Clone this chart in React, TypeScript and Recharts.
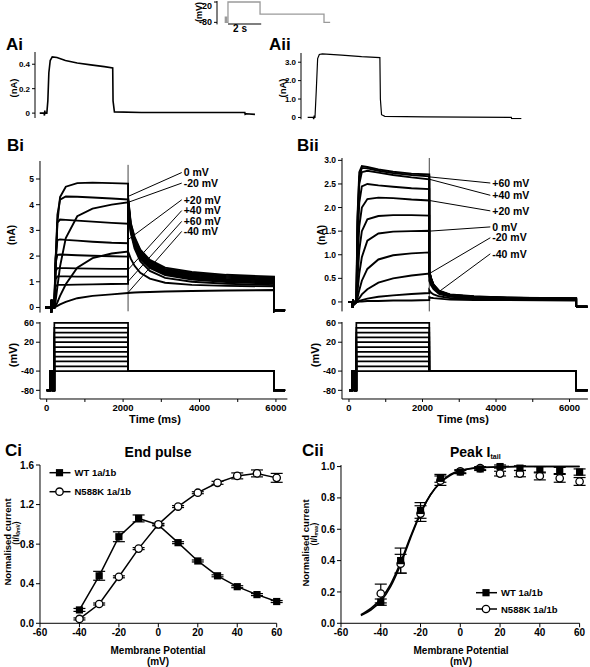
import type { ReactNode } from 'react'
import {
  ComposedChart,
  ErrorBar,
  Line,
  ReferenceDot,
  ReferenceLine,
  Scatter,
  XAxis,
  YAxis,
} from 'recharts'

const FONT = '"Liberation Sans", Arial, Helvetica, sans-serif'
const INK = '#000'

// ---------- voltage protocol ----------
const stepVoltages = [-40, -30, -20, -10, 0, 10, 20, 30, 40, 50, 60]
// null = test step voltage
const protoShape: (number | null)[] = [-80, -80, -40, -40, -80, -80, null, null, -40, -40, -80, -80]
const biProtoT = [0, 90, 90, 150, 150, 200, 200, 2130, 2130, 5950, 5950, 6240]
const biiProtoT = [0, 95, 95, 160, 160, 200, 200, 2185, 2185, 6180, 6180, 6490]

const insetT = [0, 40, 40, 110, 110, 200, 200, 2130, 2130, 5980, 5980, 6350]
const insetV = [-80, -80, -55, -55, -80, -80, 20, 20, -40, -40, -80, -80]

// ---------- Ai / Aii single traces ----------
const aiT = [-10, 120, 130, 140, 150, 200, 230, 260, 300, 360, 500, 750, 1100, 1500, 1900, 2150, 2160, 2200, 3000, 6060, 6070, 6100, 6360]
const aiI = [0, 0, -0.02, 0.02, 0, 0, 0.1, 0.33, 0.43, 0.46, 0.455, 0.43, 0.41, 0.395, 0.38, 0.37, 0.1, 0.01, 0.005, 0.005, -0.01, -0.005, -0.01]

const aiiT = [-20, 150, 160, 175, 190, 200, 240, 280, 330, 420, 1000, 1600, 2150, 2165, 2200, 2300, 3500, 6100, 6110, 6400]
const aiiI = [0, 0, -0.15, 0.1, 0, 0, 1.5, 3.2, 3.42, 3.45, 3.38, 3.3, 3.25, 1.0, 0.15, 0.06, 0.03, 0.0, -0.06, -0.06]

// ---------- Bi (WT) current family ----------
const biPreT = [-40, 110, 120, 130, 145]
const biPre = [0, 0, -0.3, 0.3, 0]
const biPulseT = [200, 230, 280, 350, 500, 800, 1200, 1700, 2130]
const biPulse = [
  [0, 0.02, 0.06, 0.12, 0.22, 0.36, 0.45, 0.51, 0.56],
  [0, 0.05, 0.2, 0.45, 0.9, 1.55, 1.92, 2.1, 2.18],
  [0, 0.2, 0.8, 1.6, 2.7, 3.55, 3.85, 4.0, 4.09],
  [0, 1.2, 3.3, 4.3, 4.7, 4.84, 4.86, 4.84, 4.82],
  [0, 1.5, 3.6, 4.2, 4.32, 4.31, 4.28, 4.24, 4.2],
  [0, 1.8, 3.3, 3.42, 3.41, 3.38, 3.34, 3.29, 3.26],
  [0, 1.9, 2.62, 2.65, 2.63, 2.6, 2.56, 2.52, 2.5],
  [0, 1.7, 2.05, 2.06, 2.05, 2.03, 2.01, 1.99, 1.98],
  [0, 1.4, 1.53, 1.53, 1.53, 1.52, 1.51, 1.5, 1.5],
  [0, 1.1, 1.21, 1.21, 1.21, 1.2, 1.2, 1.2, 1.2],
  [0, 0.82, 0.88, 0.88, 0.88, 0.89, 0.9, 0.91, 0.92],
]
const biTailT = [2130, 2200, 2300, 2450, 2700, 3100, 3800, 4700, 5950]
const biTail = [
  [0.56, 0.57, 0.58, 0.59, 0.6, 0.62, 0.64, 0.66, 0.68],
  [2.18, 1.9, 1.62, 1.35, 1.12, 0.96, 0.88, 0.84, 0.82],
  [4.09, 2.9, 2.3, 1.8, 1.42, 1.15, 1.0, 0.92, 0.87],
  [4.3, 3.3, 2.75, 2.25, 1.85, 1.55, 1.38, 1.27, 1.2],
  [4.25, 3.25, 2.7, 2.2, 1.8, 1.5, 1.33, 1.23, 1.16],
  [4.2, 3.2, 2.65, 2.15, 1.75, 1.46, 1.29, 1.19, 1.12],
  [4.15, 3.15, 2.6, 2.1, 1.7, 1.42, 1.25, 1.15, 1.08],
  [4.1, 3.1, 2.55, 2.05, 1.66, 1.38, 1.21, 1.11, 1.04],
  [4.05, 3.05, 2.5, 2.0, 1.62, 1.34, 1.17, 1.07, 1.0],
  [4.0, 3.0, 2.45, 1.95, 1.58, 1.3, 1.13, 1.03, 0.96],
  [3.95, 2.95, 2.4, 1.9, 1.54, 1.26, 1.09, 0.99, 0.92],
]
const biPostT = [5950, 5990, 6240]
const biPost = [-0.15, -0.1, -0.12]
const biSpike = [5.55, -0.15]

const biLabels = ['0 mV', '-20 mV', '+20 mV', '+40 mV', '+60 mV', '-40 mV']
const biLabelY = [5.25, 4.84, 4.19, 3.77, 3.35, 2.96]
const biLeaderY = [4.32, 4.09, 2.64, 1.47, 1.01, 0.58]

// ---------- Bii (N588K) current family ----------
const biiPreT = [-20, 90, 100, 110, 130]
const biiPre = [0, 0, -0.12, 0.05, -0.05]
const biiPulseT = [200, 230, 280, 350, 500, 800, 1200, 1700, 2185]
const biiPulse = [
  [0, 0, 0.01, 0.01, 0.02, 0.02, 0.03, 0.03, 0.04],
  [0, 0.01, 0.02, 0.04, 0.07, 0.11, 0.14, 0.17, 0.19],
  [0, 0.03, 0.08, 0.16, 0.27, 0.41, 0.5, 0.56, 0.6],
  [0, 0.08, 0.25, 0.45, 0.7, 0.9, 0.99, 1.03, 1.05],
  [0, 0.2, 0.6, 0.95, 1.3, 1.45, 1.49, 1.5, 1.51],
  [0, 0.45, 1.1, 1.5, 1.75, 1.82, 1.84, 1.84, 1.83],
  [0, 0.8, 1.6, 2.0, 2.18, 2.21, 2.2, 2.17, 2.15],
  [0, 1.2, 2.1, 2.45, 2.5, 2.47, 2.44, 2.41, 2.39],
  [0, 1.5, 2.5, 2.75, 2.78, 2.74, 2.69, 2.64, 2.6],
  [0, 1.7, 2.65, 2.84, 2.83, 2.78, 2.73, 2.69, 2.66],
  [0, 1.8, 2.75, 2.88, 2.86, 2.81, 2.76, 2.72, 2.7],
]
const biiTailT = [2185, 2230, 2300, 2450, 2750, 3400, 4300, 6180]
const biiTail = [
  [0.1, 0.09, 0.08, 0.07, 0.05, 0.04, 0.04, 0.03],
  [0.25, 0.2, 0.16, 0.12, 0.08, 0.06, 0.05, 0.04],
  [0.45, 0.36, 0.27, 0.17, 0.11, 0.08, 0.06, 0.05],
  [0.55, 0.43, 0.31, 0.19, 0.13, 0.09, 0.07, 0.06],
  [0.6, 0.46, 0.33, 0.2, 0.13, 0.1, 0.08, 0.06],
  [0.62, 0.48, 0.34, 0.21, 0.14, 0.1, 0.08, 0.065],
  [0.63, 0.49, 0.35, 0.22, 0.14, 0.1, 0.085, 0.07],
  [0.64, 0.5, 0.35, 0.22, 0.15, 0.11, 0.09, 0.07],
  [0.65, 0.5, 0.36, 0.23, 0.15, 0.11, 0.09, 0.075],
  [0.65, 0.51, 0.36, 0.23, 0.15, 0.11, 0.09, 0.075],
  [0.66, 0.51, 0.37, 0.24, 0.16, 0.12, 0.09, 0.08],
]
const biiPostT = [6180, 6200, 6490]
const biiPost = [-0.08, -0.1, -0.1]
const biiSpike = [3.05, -0.2]

const biiLabels = ['+60 mV', '+40 mV', '+20 mV', '0 mV', '-20 mV', '-40 mV']
const biiLabelY = [2.52, 2.26, 1.93, 1.59, 1.36, 1.02]
const biiLeaderT = [2185, 2185, 2185, 2185, 2185, 2400]
const biiLeaderY = [2.65, 2.6, 2.15, 1.5, 0.6, 0.19]

// ---------- Ci end pulse ----------
const cV = [-40, -30, -20, -10, 0, 10, 20, 30, 40, 50, 60]
const ciWT = [0.135, 0.48, 0.875, 1.06, 0.995, 0.815, 0.63, 0.48, 0.37, 0.29, 0.22]
const ciWTErr = [0.015, 0.045, 0.05, 0.035, 0.01, 0.01, 0.01, 0.01, 0.01, 0.01, 0.01]
const ciMut = [0.044, 0.195, 0.47, 0.755, 1.0, 1.18, 1.32, 1.42, 1.49, 1.515, 1.47]
const ciMutErr = [0.01, 0.01, 0.01, 0.01, 0.01, 0.01, 0.01, 0.015, 0.03, 0.035, 0.045]

// ---------- Cii peak tail ----------
const ciiWT = [0.135, 0.4, 0.72, 0.925, 0.965, 0.985, 1.0, 0.99, 0.98, 0.975, 0.965]
const ciiWTErr = [0.02, 0.08, 0.05, 0.025, 0.01, 0.01, 0.01, 0.015, 0.02, 0.02, 0.02]
const ciiMut = [0.19, 0.38, 0.7, 0.91, 0.97, 0.99, 0.955, 0.955, 0.94, 0.925, 0.905]
const ciiMutErr = [0.06, 0.06, 0.05, 0.03, 0.01, 0.01, 0.015, 0.02, 0.025, 0.025, 0.025]
const fitV = [-50, -45, -40, -35, -30, -25, -20, -15, -10, -5, 0, 5, 10, 20, 30, 40, 50, 60]
const fitWT = [0.05, 0.085, 0.14, 0.235, 0.375, 0.545, 0.7, 0.82, 0.9, 0.95, 0.975, 0.988, 0.994, 0.998, 1, 1, 1, 1]
const fitMut = [0.055, 0.095, 0.155, 0.25, 0.39, 0.555, 0.705, 0.82, 0.897, 0.945, 0.972, 0.986, 0.993, 0.998, 1, 1, 1, 1]

const seriesNames = ['WT 1a/1b', 'N588K 1a/1b']

// ---------- helpers ----------
const rows = (ts: number[], vs: number[]) => ts.map((t, k) => ({ t, y: vs[k] }))
const protoRows = (ts: number[], step: number) =>
  ts.map((t, k) => ({ t, y: protoShape[k] ?? step }))
const fmt1 = (v: number) => (v === 0 ? '0' : v.toFixed(1))
const fmtTime = (t: number) => (t % 2000 === 0 ? String(t) : '')
const tick = (size: number) => ({ fontSize: size, fontWeight: 700, fill: INK, fontFamily: FONT })
const axisLine = { stroke: INK, strokeWidth: 1 }

interface PanelProps {
  x: number
  y: number
  w: number
  h: number
  yW: number
  xH?: number
  mr?: number
  data?: object[]
  children: ReactNode
}

// places a chart so its plot area sits at (x, y, w, h) on the page
function Panel({ x, y, w, h, yW, xH = 0, mr = 10, data, children }: PanelProps) {
  return (
    <div style={{ position: 'absolute', left: x - yW, top: y - 4 }}>
      <ComposedChart
        width={yW + w + mr}
        height={h + xH + 8}
        data={data}
        margin={{ top: 4, right: mr, bottom: 4, left: 0 }}
      >
        {children}
      </ComposedChart>
    </div>
  )
}

const Square = (p: any) => (
  <rect key={`s${p.index}-${p.cx}`} x={p.cx - 3.6} y={p.cy - 3.6} width={7.2} height={7.2} fill={INK} />
)
const Ring = (p: any) => (
  <circle key={`c${p.index}-${p.cx}`} cx={p.cx} cy={p.cy} r={3.7} fill="#fff" stroke={INK} strokeWidth={1.3} />
)

// inset y ticks: keep the top label inside the page
const InsetTick = (p: any) => (
  <text x={p.x} y={Math.max(p.y, 9)} textAnchor="end" dominantBaseline="central"
    fontSize={9} fontWeight={700} fontFamily={FONT} fill={INK}>
    {p.payload.value}
  </text>
)

function CurrentFamily(props: {
  preT: number[]; pre: number[]; pulseT: number[]; pulse: number[][]
  tailT: number[]; tail: number[][]; postT: number[]; post: number[]
}) {
  return stepVoltages.map((v, i) => (
    <Line
      key={`tr${v}`}
      data={[
        ...rows(props.preT, props.pre),
        ...rows(props.pulseT, props.pulse[i]),
        ...rows(props.tailT, props.tail[i]),
        ...rows(props.postT, props.post),
      ]}
      dataKey="y"
      type="linear"
      stroke={INK}
      strokeWidth={1.9}
      dot={false}
      activeDot={false}
      isAnimationActive={false}
    />
  ))
}

function Txt({ x, y, size, children, anchor = 'start', rot = false }: {
  x: number; y: number; size: number; children: ReactNode; anchor?: 'start' | 'middle' | 'end'; rot?: boolean
}) {
  return (
    <text
      x={rot ? 0 : x}
      y={rot ? 0 : y}
      transform={rot ? `translate(${x},${y}) rotate(-90)` : undefined}
      textAnchor={rot ? 'middle' : anchor}
      dominantBaseline={rot ? 'central' : undefined}
      fontSize={size}
      fontWeight={700}
      fontFamily={FONT}
      fill={INK}
    >
      {children}
    </text>
  )
}

function LegendKey({ x, y, kind, label }: { x: number; y: number; kind: 'sq' | 'ci'; label: string }) {
  return (
    <g>
      <line x1={x - 10} x2={x + 11} y1={y} y2={y} stroke={INK} strokeWidth={1.5} />
      {kind === 'sq' ? (
        <rect x={x - 3.6} y={y - 3.6} width={7.2} height={7.2} fill={INK} />
      ) : (
        <circle cx={x} cy={y} r={3.7} fill="#fff" stroke={INK} strokeWidth={1.3} />
      )}
      <text x={x + 15} y={y} dominantBaseline="central" fontSize={9.5} fontWeight={700} fontFamily={FONT}>
        {label}
      </text>
    </g>
  )
}

export default function App() {
  const ciRows = cV.map((v, k) => ({ v, wt: ciWT[k], wtErr: ciWTErr[k], mut: ciMut[k], mutErr: ciMutErr[k] }))
  const ciiWTRows = cV.map((v, k) => ({ v, y: ciiWT[k], err: ciiWTErr[k] }))
  const ciiMutRows = cV.map((v, k) => ({ v, y: ciiMut[k], err: ciiMutErr[k] }))
  const labelStyle = { fontSize: 10.5, fontWeight: 700, fill: INK, fontFamily: FONT }

  return (
    <div style={{ position: 'absolute', left: 0, top: 0, width: 590, height: 667, background: '#fff', fontFamily: FONT }}>
      {/* protocol inset */}
      <Panel x={217} y={1} w={114} h={23.4} yW={25} mr={4}>
        <XAxis dataKey="t" type="number" domain={[-460, 6400]} hide allowDataOverflow />
        <YAxis type="number" domain={[-90, 25]} ticks={[-80, 20]} width={25} tickSize={3} interval={0}
          tick={InsetTick} axisLine={axisLine} tickLine={{ stroke: INK }} allowDataOverflow />
        <Line data={rows(insetT, insetV)} dataKey="y" type="linear" stroke="#9a9a9a" strokeWidth={1.3}
          dot={false} activeDot={false} isAnimationActive={false} />
        <ReferenceLine segment={[{ x: 200, y: -88 }, { x: 2200, y: -88 }]} stroke={INK} strokeWidth={1.2} ifOverflow="visible" />
      </Panel>

      {/* Ai */}
      <Panel x={35} y={52} w={223} h={66} yW={24} mr={4}>
        <XAxis dataKey="t" type="number" domain={[-150, 6450]} hide allowDataOverflow />
        <YAxis type="number" domain={[-0.04, 0.5]} ticks={[0, 0.2, 0.4]} tickFormatter={fmt1} width={24}
          tickSize={3} interval={0} tick={tick(8)} axisLine={axisLine} tickLine={{ stroke: INK }} allowDataOverflow />
        <Line data={rows(aiT, aiI)} dataKey="y" type="linear" stroke={INK} strokeWidth={1.6}
          dot={false} activeDot={false} isAnimationActive={false} />
      </Panel>

      {/* Aii */}
      <Panel x={301} y={52.7} w={222} h={66.3} yW={24} mr={4}>
        <XAxis dataKey="t" type="number" domain={[-220, 6450]} hide allowDataOverflow />
        <YAxis type="number" domain={[-0.1, 3.5]} ticks={[0, 1, 2, 3]} tickFormatter={fmt1} width={24}
          tickSize={3} interval={0} tick={tick(8)} axisLine={axisLine} tickLine={{ stroke: INK }} allowDataOverflow />
        <Line data={rows(aiiT, aiiI)} dataKey="y" type="linear" stroke={INK} strokeWidth={1.2}
          dot={false} activeDot={false} isAnimationActive={false} />
      </Panel>

      {/* Bi currents */}
      <Panel x={40} y={161.2} w={247.4} h={151.6} yW={24} mr={4}>
        <XAxis dataKey="t" type="number" domain={[-175, 6300]} hide allowDataOverflow />
        <YAxis type="number" domain={[-0.2, 5.7]} ticks={[0, 1, 2, 3, 4, 5]} width={24} tickSize={4}
          interval={0} tick={tick(8.5)} axisLine={axisLine} tickLine={{ stroke: INK }} allowDataOverflow />
        <ReferenceLine segment={[{ x: biPulseT[biPulseT.length - 1], y: biSpike[0] }, { x: biPulseT[biPulseT.length - 1], y: biSpike[1] }]}
          stroke="#444" strokeWidth={1} ifOverflow="visible" />
        {CurrentFamily({ preT: biPreT, pre: biPre, pulseT: biPulseT, pulse: biPulse, tailT: biTailT, tail: biTail, postT: biPostT, post: biPost })}
        {biLabels.map((lab, k) => (
          <ReferenceLine key={`bl${k}`} segment={[{ x: 2130, y: biLeaderY[k] }, { x: 3534, y: biLabelY[k] }]}
            stroke={INK} strokeWidth={1} ifOverflow="visible" />
        ))}
        {biLabels.map((lab, k) => (
          <ReferenceDot key={`bd${k}`} x={3534} y={biLabelY[k]} r={0} fill="none" stroke="none"
            label={{ value: lab, position: 'right', offset: 2, ...labelStyle }} />
        ))}
      </Panel>

      {/* Bii currents */}
      <Panel x={341.7} y={158.3} w={245.9} h={153.4} yW={24} mr={2}>
        <XAxis dataKey="t" type="number" domain={[-190, 6500]} hide allowDataOverflow />
        <YAxis type="number" domain={[-0.2, 3.05]} ticks={[0, 0.5, 1, 1.5, 2, 2.5, 3]} tickFormatter={fmt1}
          width={24} tickSize={4} interval={0} tick={tick(8.5)} axisLine={axisLine} tickLine={{ stroke: INK }} allowDataOverflow />
        <ReferenceLine segment={[{ x: biiPulseT[biiPulseT.length - 1], y: biiSpike[0] }, { x: biiPulseT[biiPulseT.length - 1], y: biiSpike[1] }]}
          stroke="#444" strokeWidth={1} ifOverflow="visible" />
        {CurrentFamily({ preT: biiPreT, pre: biiPre, pulseT: biiPulseT, pulse: biiPulse, tailT: biiTailT, tail: biiTail, postT: biiPostT, post: biiPost })}
        {biiLabels.map((lab, k) => (
          <ReferenceLine key={`cl${k}`} segment={[{ x: biiLeaderT[k], y: biiLeaderY[k] }, { x: 3845, y: biiLabelY[k] }]}
            stroke={INK} strokeWidth={1} ifOverflow="visible" />
        ))}
        {biiLabels.map((lab, k) => (
          <ReferenceDot key={`cd${k}`} x={3845} y={biiLabelY[k]} r={0} fill="none" stroke="none"
            label={{ value: lab, position: 'right', offset: 2, ...labelStyle }} />
        ))}
      </Panel>

      {/* Bi protocol */}
      <Panel x={40} y={321.7} w={247.4} h={77} yW={24} xH={18}>
        <XAxis dataKey="t" type="number" domain={[-175, 6300]} ticks={[0, 1000, 2000, 3000, 4000, 5000, 6000]}
          tickFormatter={fmtTime} height={18} tickSize={3} interval={0} tick={tick(9.5)} axisLine={axisLine}
          tickLine={{ stroke: INK }} allowDataOverflow />
        <YAxis type="number" domain={[-98, 62]} ticks={[-80, -40, 20, 60]} width={24} tickSize={4} interval={0}
          tick={tick(9)} axisLine={axisLine} tickLine={{ stroke: INK }} allowDataOverflow />
        {stepVoltages.map((v) => (
          <Line key={`pa${v}`} data={protoRows(biProtoT, v)} dataKey="y" type="linear" stroke={INK}
            strokeWidth={1.7} dot={false} activeDot={false} isAnimationActive={false} />
        ))}
      </Panel>

      {/* Bii protocol */}
      <Panel x={341.7} y={321.7} w={245.9} h={77} yW={24} xH={18} mr={2}>
        <XAxis dataKey="t" type="number" domain={[-190, 6500]} ticks={[0, 1000, 2000, 3000, 4000, 5000, 6000]}
          tickFormatter={fmtTime} height={18} tickSize={3} interval={0} tick={tick(9.5)} axisLine={axisLine}
          tickLine={{ stroke: INK }} allowDataOverflow />
        <YAxis type="number" domain={[-98, 62]} ticks={[-80, -40, 20, 60]} width={24} tickSize={4} interval={0}
          tick={tick(9)} axisLine={axisLine} tickLine={{ stroke: INK }} allowDataOverflow />
        {stepVoltages.map((v) => (
          <Line key={`pb${v}`} data={protoRows(biiProtoT, v)} dataKey="y" type="linear" stroke={INK}
            strokeWidth={1.7} dot={false} activeDot={false} isAnimationActive={false} />
        ))}
      </Panel>

      {/* Ci */}
      <Panel x={40} y={465} w={236.7} h={158.3} yW={28} xH={18} data={ciRows}>
        <XAxis dataKey="v" type="number" domain={[-60, 60]} ticks={[-60, -40, -20, 0, 20, 40, 60]} height={18}
          tickSize={4} interval={0} tick={tick(10)} axisLine={axisLine} tickLine={{ stroke: INK }} />
        <YAxis type="number" domain={[0, 1.6]} ticks={[0, 0.4, 0.8, 1.2, 1.6]} tickFormatter={(v: number) => v.toFixed(1)}
          width={28} tickSize={4} interval={0} tick={tick(10)} axisLine={axisLine} tickLine={{ stroke: INK }} />
        <Line dataKey="wt" type="linear" stroke={INK} strokeWidth={1.5} dot={Square} activeDot={false} isAnimationActive={false}>
          <ErrorBar dataKey="wtErr" direction="y" width={6} stroke={INK} strokeWidth={1.2} />
        </Line>
        <Line dataKey="mut" type="linear" stroke={INK} strokeWidth={1.5} dot={Ring} activeDot={false} isAnimationActive={false}>
          <ErrorBar dataKey="mutErr" direction="y" width={6} stroke={INK} strokeWidth={1.2} />
        </Line>
      </Panel>

      {/* Cii */}
      <Panel x={340.7} y={465} w={238.6} h={158.3} yW={28} xH={18}>
        <XAxis dataKey="v" type="number" domain={[-60, 60]} ticks={[-60, -40, -20, 0, 20, 40, 60]} height={18}
          tickSize={4} interval={0} tick={tick(10)} axisLine={axisLine} tickLine={{ stroke: INK }} />
        <YAxis type="number" domain={[0, 1]} ticks={[0, 0.2, 0.4, 0.6, 0.8, 1]} tickFormatter={(v: number) => v.toFixed(1)}
          width={28} tickSize={4} interval={0} tick={tick(10)} axisLine={axisLine} tickLine={{ stroke: INK }} />
        <Line data={rows(fitV, fitWT).map((r) => ({ v: r.t, fit: r.y }))} dataKey="fit" type="monotone" stroke={INK}
          strokeWidth={1.6} dot={false} activeDot={false} isAnimationActive={false} />
        <Line data={rows(fitV, fitMut).map((r) => ({ v: r.t, fit: r.y }))} dataKey="fit" type="monotone" stroke={INK}
          strokeWidth={1.6} dot={false} activeDot={false} isAnimationActive={false} />
        <Scatter data={ciiMutRows} dataKey="y" shape={Ring} isAnimationActive={false}>
          <ErrorBar dataKey="err" direction="y" width={6} stroke={INK} strokeWidth={1.2} />
        </Scatter>
        <Scatter data={ciiWTRows} dataKey="y" shape={Square} isAnimationActive={false}>
          <ErrorBar dataKey="err" direction="y" width={6} stroke={INK} strokeWidth={1.2} />
        </Scatter>
      </Panel>

      {/* text overlay */}
      <svg width={590} height={667} style={{ position: 'absolute', left: 0, top: 0, pointerEvents: 'none' }}>
        <Txt x={199} y={12} size={9} rot>(mV)</Txt>
        <Txt x={240} y={32} size={10} anchor="middle">2 s</Txt>

        <Txt x={6} y={50} size={17}>Ai</Txt>
        <Txt x={269} y={50} size={17}>Aii</Txt>
        <Txt x={13} y={88} size={9.5} rot>(nA)</Txt>
        <Txt x={282} y={88} size={9.5} rot>(nA)</Txt>

        <Txt x={7} y={151} size={17}>Bi</Txt>
        <Txt x={297} y={151} size={17}>Bii</Txt>
        <Txt x={11} y={235} size={10} rot>(nA)</Txt>
        <Txt x={321} y={235} size={10} rot>(nA)</Txt>
        <Txt x={13} y={355} size={11} rot>(mV)</Txt>
        <Txt x={315} y={355} size={11} rot>(mV)</Txt>
        <Txt x={155} y={423} size={11} anchor="middle">Time (ms)</Txt>
        <Txt x={463} y={423} size={11} anchor="middle">Time (ms)</Txt>

        <Txt x={5} y={456} size={17}>Ci</Txt>
        <Txt x={302} y={456} size={17}>Cii</Txt>
        <Txt x={158} y={457} size={14} anchor="middle">End pulse</Txt>
        <text x={450} y={457} fontSize={14} fontWeight={700} fontFamily={FONT}>
          Peak I<tspan fontSize={7} dy={2}>tail</tspan>
        </text>

        <Txt x={7} y={542} size={9.5} rot>Normalised current</Txt>
        <text transform="translate(16,533) rotate(-90)" textAnchor="middle" dominantBaseline="central"
          fontSize={8.5} fontWeight={700} fontFamily={FONT}>
          (I/I<tspan fontSize={5} dy={2}>0mV</tspan><tspan dy={-2}>)</tspan>
        </text>
        <Txt x={305} y={543} size={9.5} rot>Normalised current</Txt>
        <text transform="translate(314,534) rotate(-90)" textAnchor="middle" dominantBaseline="central"
          fontSize={8.5} fontWeight={700} fontFamily={FONT}>
          (I/I<tspan fontSize={5} dy={2}>max</tspan><tspan dy={-2}>)</tspan>
        </text>

        <Txt x={158} y={654} size={10} anchor="middle">Membrane Potential</Txt>
        <Txt x={158} y={665} size={10} anchor="middle">(mV)</Txt>
        <Txt x={461} y={654} size={10} anchor="middle">Membrane Potential</Txt>
        <Txt x={461} y={665} size={10} anchor="middle">(mV)</Txt>

        <LegendKey x={59.5} y={472.7} kind="sq" label={seriesNames[0]} />
        <LegendKey x={59.5} y={491.7} kind="ci" label={seriesNames[1]} />
        <LegendKey x={486} y={592.7} kind="sq" label={seriesNames[0]} />
        <LegendKey x={486} y={609} kind="ci" label={seriesNames[1]} />
      </svg>
    </div>
  )
}
